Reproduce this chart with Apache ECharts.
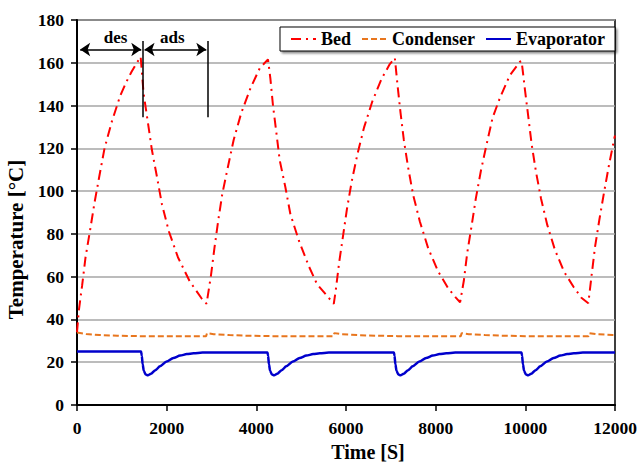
<!DOCTYPE html>
<html>
<head>
<meta charset="utf-8">
<script src="https://cdn.jsdelivr.net/npm/echarts@6/dist/echarts.min.js"></script>
<style>
html,body{margin:0;padding:0;background:#fff;}
#chart{width:638px;height:464px;}
</style>
</head>
<body>
<div id="chart"></div>
<script>
// ---- Data ----
const xTicks = [0, 2000, 4000, 6000, 8000, 10000, 12000];
const yTicks = [0, 20, 40, 60, 80, 100, 120, 140, 160, 180];

const bedTime = [0,40,115,190,294,391,502,614,778,964,1100,1217,1320,1420,
  1485,1582,1671,1782,1894,2050,2251,2512,2773,2890,
  2987,3063,3152,3241,3367,3494,3666,3873,4075,4260,
  4313,4372,4447,4521,4648,4760,4952,5175,5354,5526,5727,
  5771,5845,5934,6024,6129,6256,6403,6590,6798,6977,7089,
  7149,7216,7290,7386,7498,7647,7833,8056,8279,8450,8545,
  8629,8703,8801,8897,9009,9136,9270,9433,9656,9880,9917,
  9991,10066,10140,10237,10348,10489,10661,10862,11070,11257,11405,
  11480,11554,11650,11755,11867,11985,12000];
const bedTemp = [34,44,56,69,82,94.6,107.4,120,132.6,144.6,151,155.8,159.5,162.8,
  145.7,132,119.2,106.8,93.9,81.1,69.1,57.9,50,47.3,
  60.4,73,86.5,98.7,111.4,123.9,136.7,148.3,157.4,161.6,
  152.7,139.9,127.3,114.5,101.8,89.2,76.7,64.7,56.5,52.3,47.3,
  53.5,66.3,79.1,92,104.7,117.4,129.8,142.1,152.7,159.4,162.3,
  149.6,136.7,123.9,111,98.2,85.8,73.3,62.4,54.6,50.2,48,
  58.2,71,83.7,96.7,109.5,121.9,134.3,143.6,154.2,160.5,160.8,
  147.5,134.8,122,109.1,96.7,84.2,72.5,62.4,55.4,50,47.6,
  60.9,73.8,86.5,99.3,112.3,124.7,126];

const condTime = [0,200,500,900,1400,2880,2900,3050,3400,3800,4300,
  5720,5740,5900,6250,6650,7150,
  8560,8580,8740,9100,9500,10000,
  11410,11430,11590,11950,12000];
const condTemp = [33.9,33.2,32.7,32.4,32.2,32.2,33.6,33.1,32.7,32.4,32.2,
  32.2,33.6,33.1,32.7,32.4,32.2,
  32.2,33.6,33.1,32.7,32.4,32.2,
  32.2,33.6,33.1,32.7,32.6];

const evapTime = [0,1430,1445,1465,1490,1530,1580,1650,1750,1850,2000,2150,2300,2450,2600,2800,
  4250,4262,4282,4307,4347,4397,4467,4567,4667,4817,4967,5117,5267,5417,5617,
  7070,7082,7102,7127,7167,7217,7287,7387,7487,7637,7787,7937,8087,8237,8437,
  9915,9927,9947,9972,10012,10062,10132,10232,10332,10482,10632,10782,10932,11082,11282,12000];
const evapTemp = [25,25,23,19,16,14.3,13.9,14.6,16.3,18.1,20.3,22,23.1,23.8,24.2,24.5,
  24.5,23,19,16,14.3,13.9,14.6,16.3,18.1,20.3,22,23.1,23.8,24.2,24.5,
  24.5,23,19,16,14.3,13.9,14.6,16.3,18.1,20.3,22,23.1,23.8,24.2,24.5,
  24.5,23,19,16,14.3,13.9,14.6,16.3,18.1,20.3,22,23.1,23.8,24.2,24.5,24.5];

// Annotation (data coordinates)
const desArrow = [[71, 166.2], [1433, 166.2]];
const adsArrow = [[1507, 166.2], [2884, 166.2]];
const lineA = [[1457, 170.2], [1457, 134.5]];
const lineB = [[2907, 170.2], [2907, 134.5]];
const phaseLabels = [{name: 'des', at: [860, 172]}, {name: 'ads', at: [2125, 172]}];

// ---- Chart ----
const zip = (a, b) => a.map((t, i) => [t, b[i]]);
const FONT = "'Liberation Serif', 'Times New Roman', serif";

const chart = echarts.init(document.getElementById('chart'), null, {renderer: 'svg'});
chart.setOption({
  animation: false,
  backgroundColor: '#fff',
  textStyle: {fontFamily: FONT, color: '#000'},
  grid: {left: 77, right: 23, top: 20, bottom: 59, show: true, borderColor: '#000', borderWidth: 1.5,
         backgroundColor: 'transparent', containLabel: false, outerBoundsMode: 'none'},
  legend: {
    left: 280, top: 27, padding: [3, 10, 3, 10],
    itemWidth: 25, itemHeight: 12, itemGap: 10,
    backgroundColor: '#fff', borderColor: '#000', borderWidth: 1,
    shadowColor: 'rgba(0,0,0,0.45)', shadowOffsetX: 2, shadowOffsetY: 2, shadowBlur: 2,
    itemStyle: {opacity: 0},
    textStyle: {fontFamily: FONT, fontWeight: 'bold', fontSize: 18, color: '#000'},
    data: ['Bed', 'Condenser', 'Evaporator']
  },
  xAxis: {
    type: 'value', min: xTicks[0], max: xTicks[xTicks.length - 1], interval: 2000,
    name: 'Time [S]', nameLocation: 'middle', nameGap: 37,
    nameTextStyle: {fontFamily: FONT, fontWeight: 'bold', fontSize: 20, color: '#000', padding: [0, 0, 0, 44]},
    axisLine: {show: true, onZero: false, lineStyle: {color: '#000', width: 2}},
    axisTick: {show: true, inside: false, length: 6, lineStyle: {color: '#000', width: 1.5}},
    axisLabel: {margin: 14, fontFamily: FONT, fontWeight: 'bold', fontSize: 17.5, color: '#000',
                formatter: v => String(v)},
    splitLine: {show: false}
  },
  yAxis: {
    type: 'value', min: yTicks[0], max: yTicks[yTicks.length - 1], interval: 20,
    name: 'Temperature [°C]', nameLocation: 'middle', nameGap: 43,
    nameTextStyle: {fontFamily: FONT, fontWeight: 'bold', fontSize: 21, color: '#000', padding: [0, 54, 0, 0]},
    axisLine: {show: true, onZero: false, lineStyle: {color: '#000', width: 2}},
    axisTick: {show: true, inside: false, length: 6, lineStyle: {color: '#000', width: 1.5}},
    axisLabel: {margin: 13, fontFamily: FONT, fontWeight: 'bold', fontSize: 17.5, color: '#000',
                formatter: v => String(v)},
    splitLine: {show: true, lineStyle: {color: '#A6A6A6', width: 1.5}}
  },
  series: [
    {
      name: 'Bed', type: 'line', data: zip(bedTime, bedTemp), showSymbol: false, symbol: 'none',
      lineStyle: {color: '#FF0000', width: 2, type: [10, 5, 2, 5]}, itemStyle: {color: '#FF0000'},
      z: 3,
      markLine: {
        silent: true, animation: false, symbolSize: 10,
        label: {show: false},
        lineStyle: {color: '#000', type: 'solid', width: 1.5},
        data: [
          [{coord: desArrow[0], symbol: 'arrow'}, {coord: desArrow[1], symbol: 'arrow'}],
          [{coord: adsArrow[0], symbol: 'arrow'}, {coord: adsArrow[1], symbol: 'arrow'}],
          [{coord: lineA[0], symbol: 'none'}, {coord: lineA[1], symbol: 'none'}],
          [{coord: lineB[0], symbol: 'none'}, {coord: lineB[1], symbol: 'none'}]
        ]
      },
      markPoint: {
        silent: true, animation: false, symbol: 'rect', symbolSize: 1,
        itemStyle: {color: 'rgba(0,0,0,0)'},
        label: {show: true, position: 'inside', formatter: '{b}', fontFamily: FONT, fontWeight: 'bold', fontSize: 17, color: '#000'},
        data: phaseLabels.map(p => ({name: p.name, coord: p.at}))
      }
    },
    {
      name: 'Condenser', type: 'line', data: zip(condTime, condTemp), showSymbol: false, symbol: 'none',
      lineStyle: {color: '#E8761E', width: 2, type: [6, 3]}, itemStyle: {color: '#E8761E'}, z: 2
    },
    {
      name: 'Evaporator', type: 'line', data: zip(evapTime, evapTemp), showSymbol: false, symbol: 'none',
      smooth: 0.25, smoothMonotone: 'x',
      lineStyle: {color: '#0000CC', width: 2.5, type: 'solid'}, itemStyle: {color: '#0000CC'}, z: 2
    }
  ]
});
</script>
</body>
</html>
